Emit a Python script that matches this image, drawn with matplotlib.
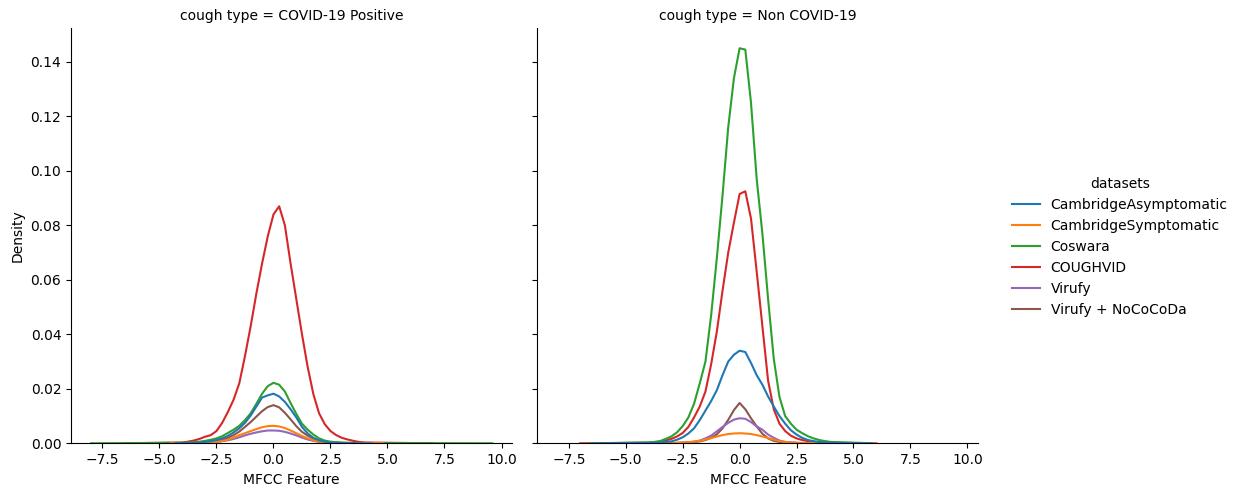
import numpy as np
import matplotlib
matplotlib.use("Agg")
import matplotlib.pyplot as plt
from matplotlib.lines import Line2D


DATASETS = ["CambridgeAsymptomatic", "CambridgeSymptomatic", "Coswara",
            "COUGHVID", "Virufy", "Virufy + NoCoCoDa"]
COLORS = ["#1f77b4", "#ff7f0e", "#2ca02c", "#d62728", "#9467bd", "#8c564b"]
COUGH_TYPES = ["COVID-19 Positive", "Non COVID-19"]

GRID = np.linspace(-4, 4, 33)

# density read at each GRID point, COVID-19 Positive panel
pos_cambridge_asym = [0.0001, 0.0001, 0.0002, 0.0003, 0.0005, 0.0008, 0.0012, 0.0018, 0.0027, 0.0040, 0.0055,
                      0.0075, 0.0102, 0.0135, 0.0168, 0.0176, 0.0182, 0.0172, 0.0152, 0.0125, 0.0095, 0.0060,
                      0.0036, 0.0020, 0.0011, 0.0006, 0.0003, 0.0002, 0.0001, 0.0001, 0.0001, 0.0, 0.0]
pos_cambridge_sym = [0.0001, 0.0001, 0.0001, 0.0002, 0.0002, 0.0003, 0.0005, 0.0008, 0.0013, 0.0021, 0.0030,
                     0.0037, 0.0045, 0.0052, 0.0059, 0.0063, 0.0064, 0.0062, 0.0056, 0.0047, 0.0037, 0.0027,
                     0.0018, 0.0011, 0.0006, 0.0003, 0.0002, 0.0001, 0.0001, 0.0001, 0.0001, 0.0001, 0.0001]
pos_coswara = [0.0002, 0.0003, 0.0004, 0.0006, 0.0009, 0.0013, 0.0018, 0.0026, 0.0038, 0.0050, 0.0064,
               0.0085, 0.0110, 0.0145, 0.0182, 0.0210, 0.0222, 0.0215, 0.0190, 0.0148, 0.0108, 0.0072,
               0.0050, 0.0032, 0.0018, 0.0010, 0.0006, 0.0004, 0.0003, 0.0002, 0.0002, 0.0001, 0.0001]
pos_coughvid = [0.0003, 0.0006, 0.0010, 0.0016, 0.0024, 0.0030, 0.0045, 0.0075, 0.0115, 0.0160, 0.0220,
                0.0320, 0.0430, 0.0550, 0.0660, 0.0760, 0.0840, 0.0870, 0.0800, 0.0660, 0.0530, 0.0400,
                0.0280, 0.0180, 0.0110, 0.0070, 0.0045, 0.0030, 0.0020, 0.0014, 0.0009, 0.0005, 0.0003]
pos_virufy = [0.0, 0.0, 0.0001, 0.0001, 0.0002, 0.0003, 0.0005, 0.0008, 0.0011, 0.0016, 0.0022,
              0.0029, 0.0035, 0.0040, 0.0044, 0.0047, 0.0047, 0.0046, 0.0042, 0.0036, 0.0029, 0.0021,
              0.0014, 0.0009, 0.0005, 0.0003, 0.0002, 0.0001, 0.0001, 0.0, 0.0, 0.0, 0.0]
pos_virufy_nococoda = [0.0001, 0.0001, 0.0001, 0.0002, 0.0003, 0.0005, 0.0008, 0.0013, 0.0020, 0.0030, 0.0043,
                       0.0060, 0.0078, 0.0098, 0.0118, 0.0133, 0.0140, 0.0132, 0.0112, 0.0088, 0.0063, 0.0042,
                       0.0028, 0.0017, 0.0010, 0.0006, 0.0003, 0.0002, 0.0001, 0.0001, 0.0, 0.0, 0.0]

# density read at each GRID point, Non COVID-19 panel
neg_cambridge_asym = [0.0002, 0.0002, 0.0003, 0.0005, 0.0007, 0.0013, 0.0022, 0.0036, 0.0055, 0.0085, 0.0120,
                      0.0155, 0.0195, 0.0250, 0.0300, 0.0325, 0.0340, 0.0335, 0.0295, 0.0250, 0.0215, 0.0172,
                      0.0135, 0.0100, 0.0072, 0.0048, 0.0032, 0.0020, 0.0012, 0.0008, 0.0005, 0.0003, 0.0002]
neg_cambridge_sym = [0.0, 0.0, 0.0001, 0.0001, 0.0001, 0.0002, 0.0003, 0.0004, 0.0006, 0.0009, 0.0014,
                     0.0019, 0.0025, 0.0030, 0.0034, 0.0036, 0.0037, 0.0036, 0.0034, 0.0030, 0.0025, 0.0019,
                     0.0013, 0.0008, 0.0005, 0.0003, 0.0002, 0.0001, 0.0001, 0.0001, 0.0, 0.0, 0.0]
neg_coswara = [0.0003, 0.0005, 0.0008, 0.0016, 0.0025, 0.0040, 0.0063, 0.0095, 0.0145, 0.0220, 0.0300,
               0.0470, 0.0680, 0.0910, 0.1160, 0.1340, 0.1450, 0.1445, 0.1250, 0.0970, 0.0770, 0.0530,
               0.0310, 0.0170, 0.0100, 0.0072, 0.0050, 0.0037, 0.0026, 0.0018, 0.0012, 0.0008, 0.0005]
neg_coughvid = [0.0002, 0.0004, 0.0006, 0.0010, 0.0016, 0.0025, 0.0038, 0.0060, 0.0095, 0.0135, 0.0190,
                0.0290, 0.0410, 0.0560, 0.0700, 0.0810, 0.0915, 0.0925, 0.0825, 0.0630, 0.0430, 0.0230,
                0.0125, 0.0072, 0.0045, 0.0028, 0.0018, 0.0012, 0.0008, 0.0005, 0.0003, 0.0002, 0.0001]
neg_virufy = [0.0, 0.0, 0.0, 0.0001, 0.0001, 0.0001, 0.0002, 0.0004, 0.0006, 0.0010, 0.0018,
              0.0028, 0.0044, 0.0060, 0.0075, 0.0087, 0.0092, 0.0090, 0.0078, 0.0062, 0.0050, 0.0032,
              0.0020, 0.0010, 0.0005, 0.0003, 0.0002, 0.0001, 0.0001, 0.0, 0.0, 0.0, 0.0]
neg_virufy_nococoda = [0.0, 0.0, 0.0, 0.0001, 0.0001, 0.0001, 0.0002, 0.0003, 0.0004, 0.0007, 0.0012,
                       0.0020, 0.0033, 0.0055, 0.0086, 0.0122, 0.0148, 0.0125, 0.0092, 0.0062, 0.0035, 0.0018,
                       0.0009, 0.0005, 0.0003, 0.0002, 0.0001, 0.0001, 0.0, 0.0, 0.0, 0.0, 0.0]

# where each kde curve starts / ends (density ~0 there)
pos_lo = [-4.3, -4.5, -8.0, -6.5, -4.2, -4.4]
pos_hi = [4.3, 4.8, 9.6, 7.0, 4.2, 4.6]
neg_lo = [-6.4, -4.2, -6.6, -7.0, -4.0, -4.0]
neg_hi = [5.8, 6.0, 5.9, 6.0, 4.0, 4.0]

POS = [pos_cambridge_asym, pos_cambridge_sym, pos_coswara, pos_coughvid, pos_virufy, pos_virufy_nococoda]
NEG = [neg_cambridge_asym, neg_cambridge_sym, neg_coswara, neg_coughvid, neg_virufy, neg_virufy_nococoda]


def draw_panel(ax, curves, lo, hi, title):
   # seaborn draws hue levels in reverse, so last one ends up at the bottom
   for i in reversed(range(len(DATASETS))):
      x = np.concatenate([[lo[i]], GRID, [hi[i]]])
      y = np.concatenate([[0.0], curves[i], [0.0]])
      ax.plot(x, y, color=COLORS[i], lw=1.5)
   ax.set_title(f"cough type = {title}", fontsize=10)
   ax.set_xlabel("MFCC Feature")
   ax.spines["top"].set_visible(False)
   ax.spines["right"].set_visible(False)


fig, axes = plt.subplots(1, 2, sharex=True, sharey=True, figsize=(12.39, 4.88), dpi=100)
draw_panel(axes[0], POS, pos_lo, pos_hi, COUGH_TYPES[0])
draw_panel(axes[1], NEG, neg_lo, neg_hi, COUGH_TYPES[1])
axes[0].set_ylabel("Density")
axes[0].set_ylim(0, axes[0].get_ylim()[1])

axes[0].set_position([0.0573, 0.0916, 0.3563, 0.850])
axes[1].set_position([0.4337, 0.0916, 0.3559, 0.850])

handles = [Line2D([], [], color=c, lw=1.5) for c in COLORS]
fig.legend(handles, DATASETS, title="datasets", loc="center left",
           bbox_to_anchor=(0.8065, 0.494), frameon=False)

fig.savefig("out.png", dpi=100)
